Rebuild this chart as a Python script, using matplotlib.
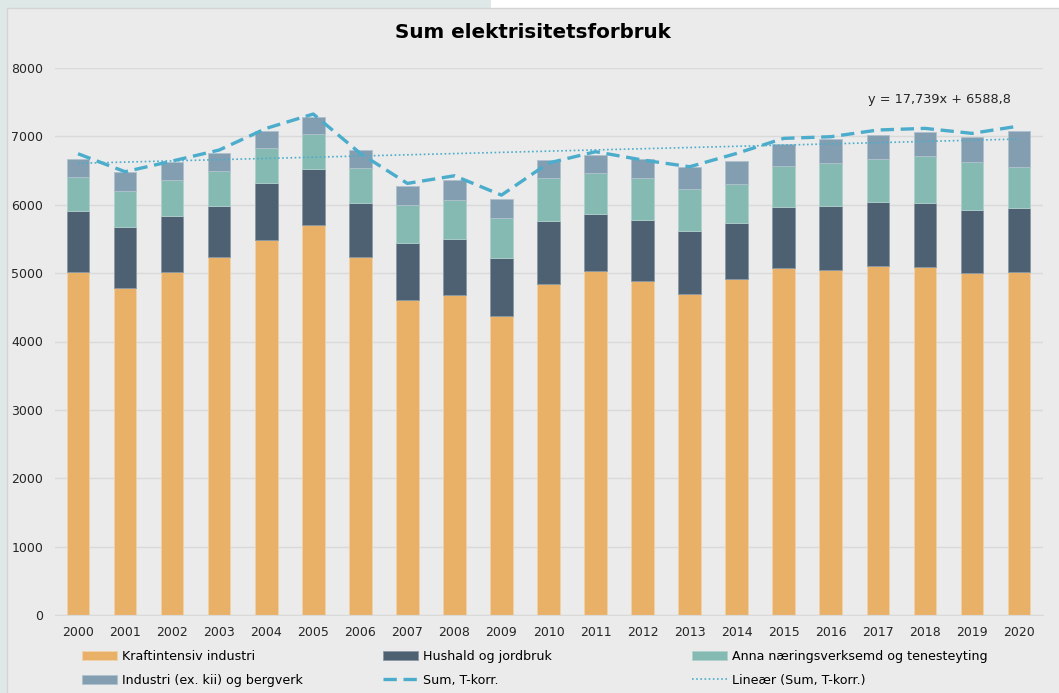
import matplotlib.pyplot as plt
import matplotlib.patches as mpatches
import numpy as np

years = [str(y) for y in range(2000, 2021)]
kraft = [5020, 4780, 5010, 5229, 5483, 5698, 5229, 4610, 4678, 4376, 4834,
         5024, 4883, 4688, 4907, 5073, 5044, 5107, 5093, 5005, 5015]
hushald = [882, 888, 824, 756, 829, 824, 791, 829, 824, 844, 922,
           839, 893, 927, 825, 893, 932, 932, 931, 917, 931]
anna = [508, 527, 527, 503, 512, 512, 521, 556, 571, 585, 629,
        596, 614, 614, 575, 605, 634, 629, 688, 707, 610]
industri = [258, 278, 259, 273, 254, 254, 254, 283, 288, 278, 274,
            268, 278, 327, 332, 317, 346, 352, 347, 366, 522]
sum_tkorr = [6746, 6483, 6639, 6800, 7117, 7327, 6751, 6312, 6424, 6141, 6610,
             6776, 6654, 6556, 6751, 6971, 6995, 7093, 7117, 7044, 7151]
trend_slope = 17.739
trend_intercept = 6588.8

c_kraft = '#E9B168'
c_hush = '#4D6173'
c_anna = '#85BAB2'
c_ind = '#839EB1'
c_line = '#4BADCB'

fig = plt.figure(figsize=(10.59, 6.93), dpi=100)
fig.patch.set_facecolor('#EBEBEB')
# outer strips and border
fig.add_artist(mpatches.Rectangle((0, 0), 7 / 1059, 1, transform=fig.transFigure,
                                  facecolor='#DEE8E7', edgecolor='none'))
fig.add_artist(mpatches.Rectangle((0, 1 - 8 / 693), 491 / 1059, 8 / 693, transform=fig.transFigure,
                                  facecolor='#DEE8E7', edgecolor='none'))
fig.add_artist(mpatches.Rectangle((491 / 1059, 1 - 8 / 693), 1, 8 / 693, transform=fig.transFigure,
                                  facecolor='white', edgecolor='none'))
fig.add_artist(mpatches.Rectangle((7 / 1059, -0.01), 1.0, 1 - 8 / 693 + 0.01, transform=fig.transFigure,
                                  facecolor='none', edgecolor='#D4D4D4', linewidth=1))

ax = fig.add_axes([54.5 / 1059, 78 / 693, 988 / 1059, 547 / 693])
ax.set_facecolor('#EBEBEB')

x = np.arange(len(years))
w = 0.48
b1 = np.array(kraft)
b2 = b1 + np.array(hushald)
b3 = b2 + np.array(anna)
h1 = ax.bar(x, kraft, w, color=c_kraft, edgecolor='#EFD2A8', linewidth=0.6, zorder=2)
h2 = ax.bar(x, hushald, w, bottom=b1, color=c_hush, edgecolor='#8A98A5', linewidth=0.6, zorder=2)
h3 = ax.bar(x, anna, w, bottom=b2, color=c_anna, edgecolor='#AFD0CB', linewidth=0.6, zorder=2)
h4 = ax.bar(x, industri, w, bottom=b3, color=c_ind, edgecolor='#AFC0CC', linewidth=0.6, zorder=2)

h5, = ax.plot(x, sum_tkorr, color=c_line, linewidth=2.4, dashes=(4, 2), zorder=3)
t = np.arange(1, len(years) + 1)
h6, = ax.plot(x, trend_slope * t + trend_intercept, color=c_line, linewidth=1.2,
              linestyle=(0, (1, 1.5)), zorder=3)

ax.text(18.3, 7540, 'y = 17,739x + 6588,8', ha='center', va='center', fontsize=9.3, color='#262626')

ax.set_xlim(-0.5, len(years) - 0.5)
ax.set_ylim(0, 8000)
ax.set_yticks(range(0, 8001, 1000))
ax.set_xticks(x)
ax.set_xticklabels(years)
ax.grid(axis='y', color='#D9D9D9', linewidth=1, zorder=0)
ax.set_axisbelow(True)
for s in ['top', 'right', 'left']:
    ax.spines[s].set_visible(False)
ax.spines['bottom'].set_color('#D9D9D9')
ax.tick_params(length=0, labelsize=9, colors='#262626')
ax.tick_params(axis='y', pad=8)
ax.tick_params(axis='x', pad=8)

fig.text(533 / 1059, 1 - 33 / 693, 'Sum elektrisitetsforbruk', ha='center', va='center',
         fontsize=14.3, fontweight='bold')

legkw = dict(frameon=False, fontsize=9.1, handlelength=2.8, handletextpad=0.4,
             labelspacing=0.85, borderpad=0, borderaxespad=0, loc='upper left')
fig.legend([h1, h4], ['Kraftintensiv industri', 'Industri (ex. kii) og bergverk'],
           bbox_to_anchor=(82 / 1059, 1 - 650 / 693), **legkw)
fig.legend([h2, h5], ['Hushald og jordbruk', 'Sum, T-korr.'],
           bbox_to_anchor=(383 / 1059, 1 - 650 / 693), **legkw)
fig.legend([h3, h6], ['Anna næringsverksemd og tenesteyting', 'Lineær (Sum, T-korr.)'],
           bbox_to_anchor=(692 / 1059, 1 - 650 / 693), **legkw)

fig.savefig('out.png', dpi=100, facecolor=fig.get_facecolor())
